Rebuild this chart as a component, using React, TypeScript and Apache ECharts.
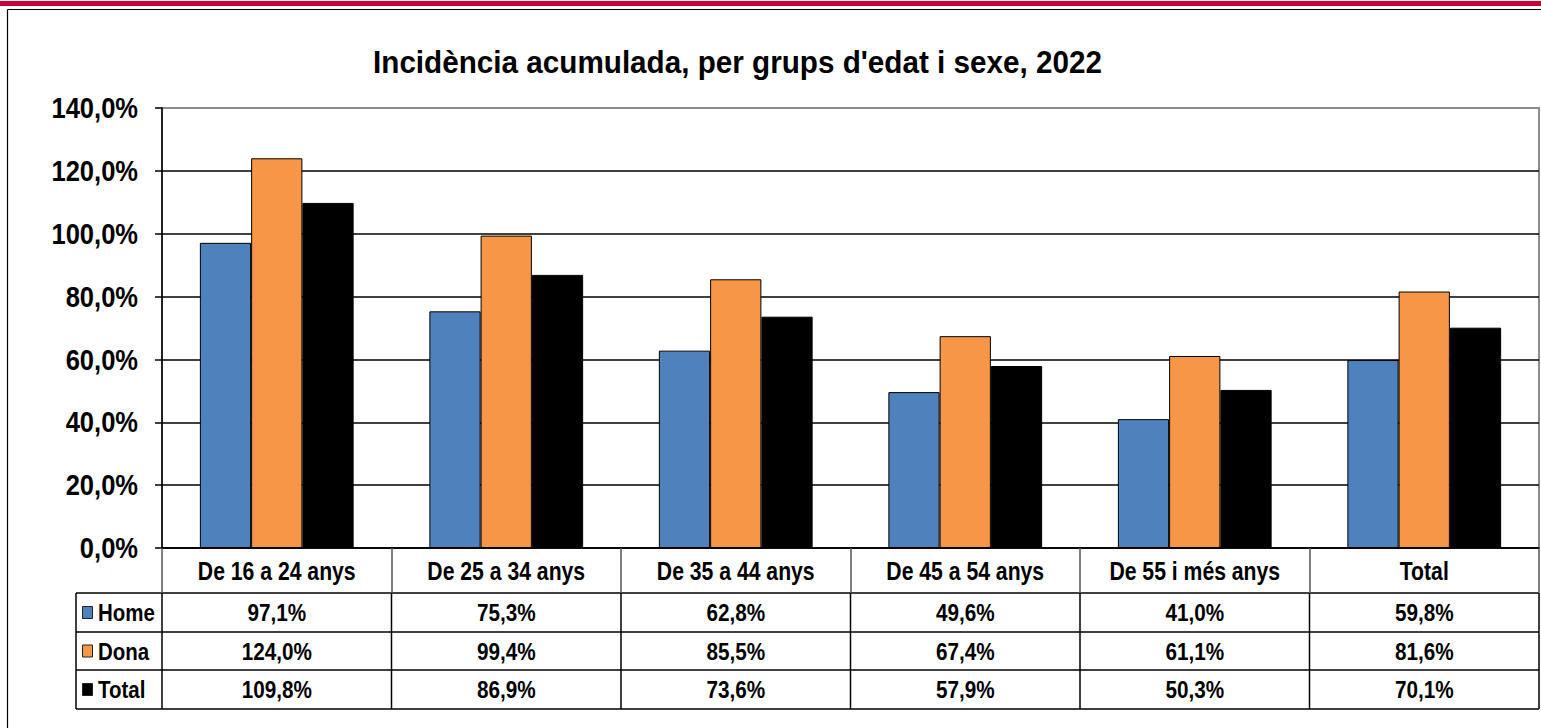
import React, { useEffect, useRef } from "react";
import * as echarts from "echarts";

const titleText = "Incidència acumulada, per grups d'edat i sexe, 2022";
const categories = ["De 16 a 24 anys", "De 25 a 34 anys", "De 35 a 44 anys", "De 45 a 54 anys", "De 55 i més anys", "Total"];
const seriesNames = ["Home", "Dona", "Total"];
const homeValues = [97.1, 75.3, 62.8, 49.6, 41.0, 59.8];
const donaValues = [124.0, 99.4, 85.5, 67.4, 61.1, 81.6];
const totalValues = [109.8, 86.9, 73.6, 57.9, 50.3, 70.1];
const seriesColors = ["#4F81BD", "#F79646", "#000000"];
const yTicks = [0, 20, 40, 60, 80, 100, 120, 140];
const yStep = 20;

const FONT = "'Liberation Sans Narrow', 'Arial Narrow', 'Liberation Sans', Arial, sans-serif";
const fmt = (v: number) => v.toFixed(1).replace(".", ",") + "%";

const GRID_LEFT = 162;
const GRID_TOP = 108;
const GRID_W = 1377;
const GRID_H = 440;
const TABLE_LEFT = 76;
const HEADER_BOTTOM = 593;
const ROW_BOTTOMS = [632, 670, 709];

const txt = (text: string, x: number, y: number, size: number, sx: number, align: string) => ({
  type: "text",
  x,
  y,
  scaleX: sx,
  style: { text, fontFamily: FONT, fontWeight: "bold", fontSize: size, fill: "#000", align, verticalAlign: "middle" },
});

export default function App() {
  const ref = useRef<HTMLDivElement>(null);
  useEffect(() => {
    if (!ref.current) return;
    const chart = echarts.init(ref.current, undefined, { renderer: "svg" });
    const allValues = [homeValues, donaValues, totalValues];
    const option: any = {
      animation: false,
      backgroundColor: "#ffffff",
      grid: {
        left: GRID_LEFT,
        top: GRID_TOP,
        width: GRID_W,
        height: GRID_H,
        show: true,
        borderColor: "#8c8c8c",
        borderWidth: 2,
        backgroundColor: "transparent",
      },
      xAxis: {
        type: "category",
        data: categories,
        axisLine: { show: true, lineStyle: { color: "#000", width: 1.5 } },
        axisTick: { show: true, interval: 0, length: HEADER_BOTTOM - (GRID_TOP + GRID_H), lineStyle: { color: "#555", width: 1.5 } },
        axisLabel: { show: false },
      },
      yAxis: {
        type: "value",
        min: yTicks[0],
        max: yTicks[yTicks.length - 1],
        interval: yStep,
        axisLine: { show: true, lineStyle: { color: "#000", width: 1.5 } },
        axisTick: { show: true, length: 7, lineStyle: { color: "#000", width: 1.5 } },
        splitLine: {
          show: true,
          lineStyle: { color: ["#000", "#000", "#000", "#000", "#000", "#000", "#000", "#8c8c8c"], width: 1.5 },
        },
        axisLabel: { show: false },
      },
      series: seriesNames.map((name, i) => ({
        name,
        type: "bar",
        data: allValues[i],
        barGap: "0%",
        barCategoryGap: "33%",
        itemStyle: { color: seriesColors[i], borderColor: "#000", borderWidth: 1 },
      })),
    };
    chart.setOption(option);

    const centers = categories.map((_, j) => chart.convertToPixel({ xAxisIndex: 0 }, j) as number);
    const colW = centers.length > 1 ? centers[1] - centers[0] : GRID_W;
    const boundaries = [centers[0] - colW / 2, ...centers.map((c) => c + colW / 2)];
    const tableRight = boundaries[boundaries.length - 1];
    const rowTops = [HEADER_BOTTOM, ROW_BOTTOMS[0], ROW_BOTTOMS[1]];
    const axisBottom = GRID_TOP + GRID_H;

    const graphics: any[] = [];
    graphics.push({ type: "rect", shape: { x: 0, y: 1, width: 1541, height: 5 }, style: { fill: "#cc0033" } });
    graphics.push({ type: "line", shape: { x1: 7.5, y1: 9.5, x2: 1541, y2: 9.5 }, style: { stroke: "#000", lineWidth: 1.2 } });
    graphics.push({ type: "line", shape: { x1: 7.5, y1: 9.5, x2: 7.5, y2: 728 }, style: { stroke: "#000", lineWidth: 1.2 } });

    graphics.push(txt(titleText, 737.5, 62, 31, 0.957, "center"));

    yTicks.forEach((v) => {
      const y = chart.convertToPixel({ yAxisIndex: 0 }, v) as number;
      graphics.push(txt(fmt(v), 138, y, 29, 0.88, "right"));
    });

    categories.forEach((c, j) => {
      graphics.push(txt(c, centers[j], (axisBottom + HEADER_BOTTOM) / 2 + 1, 26, 0.815, "center"));
    });

    [HEADER_BOTTOM, ...ROW_BOTTOMS].forEach((y) => {
      graphics.push({ type: "line", shape: { x1: TABLE_LEFT, y1: y, x2: tableRight, y2: y }, style: { stroke: "#000", lineWidth: 1.5 } });
    });
    graphics.push({ type: "line", shape: { x1: TABLE_LEFT, y1: HEADER_BOTTOM, x2: TABLE_LEFT, y2: ROW_BOTTOMS[2] }, style: { stroke: "#000", lineWidth: 1.5 } });
    boundaries.forEach((x) => {
      graphics.push({ type: "line", shape: { x1: x, y1: HEADER_BOTTOM, x2: x, y2: ROW_BOTTOMS[2] }, style: { stroke: "#000", lineWidth: 1.5 } });
    });

    seriesNames.forEach((name, i) => {
      const yc = (rowTops[i] + ROW_BOTTOMS[i]) / 2 + 1;
      graphics.push({
        type: "rect",
        shape: { x: 82.5, y: yc - 7, width: 10, height: 12 },
        style: { fill: seriesColors[i], stroke: "#222", lineWidth: 1 },
      });
      graphics.push(txt(name, 98, yc, 23, 0.89, "left"));
      allValues[i].forEach((v, j) => {
        graphics.push(txt(fmt(v), centers[j], yc, 23, 0.9, "center"));
      });
    });

    chart.setOption({ graphic: graphics });
    return () => chart.dispose();
  }, []);
  return <div ref={ref} style={{ position: "fixed", left: 0, top: 0, width: 1541, height: 728, background: "#fff" }} />;
}
